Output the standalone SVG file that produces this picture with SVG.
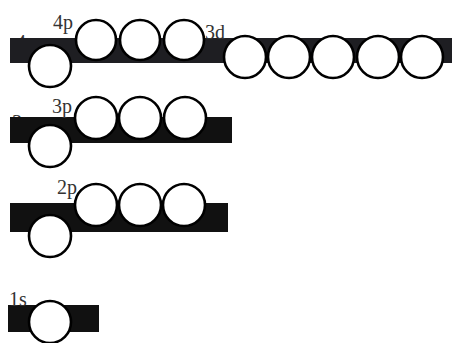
<svg xmlns="http://www.w3.org/2000/svg" width="461" height="343" viewBox="0 0 461 343">
<style>
.bar{fill:#111}
.bar1{fill:#1e1e22}
.orb{fill:#fff;stroke:#000;stroke-width:2.6}
.lbl{font-family:"Liberation Serif",serif;font-size:20px;fill:#333}
</style>
<rect width="461" height="343" fill="#fff"/>
<g id="level4">
<text class="lbl" x="16" y="49">4s</text>
<rect class="bar1" x="10" y="38" width="442" height="25"/>
<g id="orb4s"><circle class="orb" cx="50" cy="66" r="21"/></g>
<g id="orb4p"><text class="lbl" x="53" y="29">4p</text>
<circle class="orb" cx="96" cy="40" r="20"/><circle class="orb" cx="140" cy="40" r="20"/><circle class="orb" cx="184" cy="40" r="20"/></g>
<g id="orb3d"><text class="lbl" x="205" y="39">3d</text>
<circle class="orb" cx="245" cy="57" r="21"/><circle class="orb" cx="289" cy="57" r="21"/><circle class="orb" cx="333" cy="57" r="21"/><circle class="orb" cx="378" cy="57" r="21"/><circle class="orb" cx="422" cy="57" r="21"/></g>
</g>
<g id="level3">
<text class="lbl" x="12" y="129">3s</text>
<rect class="bar" x="10" y="117" width="222" height="26"/>
<g id="orb3s"><circle class="orb" cx="50" cy="146" r="21"/></g>
<g id="orb3p"><text class="lbl" x="52" y="113">3p</text>
<circle class="orb" cx="96" cy="118" r="21"/><circle class="orb" cx="140" cy="118" r="21"/><circle class="orb" cx="185" cy="118" r="21"/></g>
</g>
<g id="level2">
<text class="lbl" x="10" y="218">2s</text>
<rect class="bar" x="10" y="203" width="218" height="29"/>
<g id="orb2s"><circle class="orb" cx="50" cy="236" r="21"/></g>
<g id="orb2p"><text class="lbl" x="57" y="194">2p</text>
<circle class="orb" cx="96" cy="205" r="21"/><circle class="orb" cx="140" cy="205" r="21"/><circle class="orb" cx="184" cy="205" r="21"/></g>
</g>
<g id="level1">
<rect class="bar" x="8" y="305" width="91" height="27"/>
<g id="orb1s"><text class="lbl" x="9" y="306">1s</text>
<circle class="orb" cx="50" cy="322" r="21"/></g>
</g>
</svg>
